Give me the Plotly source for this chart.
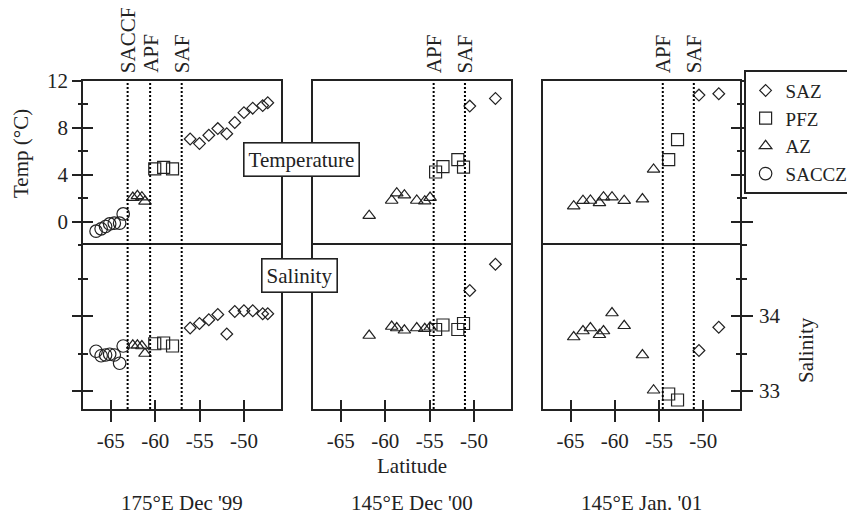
import plotly.graph_objects as go

FONT = "Liberation Serif, Times New Roman, serif"
INK = "#222222"
# the page body adds an 8px margin, so the figure is drawn 8px smaller and
# every target pixel position is shifted by that offset
OFF = 8
FW, FH = 855 - OFF, 516 - OFF


def fx(px):
    return (px - OFF) / FW


def fy(py):
    return 1 - (py - OFF) / FH


# ---------------- data ----------------
lat_ticks = [-65, -60, -55, -50]
lat_tick_text = ["-65", "-60", "-55", "-50"]
temp_ticks = [0, 4, 8, 12]
temp_tick_text = ["0", "4", "8", "12"]
temp_minor = [-2, 2, 6, 10]
sal_ticks = [33, 34]
sal_tick_text = ["33", "34"]
sal_minor = [33.5, 34.5]

zones = ["SAZ", "PFZ", "AZ", "SACCZ"]
panel_titles = ["175°E Dec '99", "145°E Dec '00", "145°E Jan. '01"]

# Panel 1: 175°E Dec '99
p1_saz_lat = [-56.07, -55.02, -53.97, -52.96, -51.95, -51.05, -50.02, -49.03, -47.91, -47.34]
p1_saz_temp = [7.05, 6.66, 7.37, 7.94, 7.5, 8.46, 9.3, 9.68, 9.9, 10.14]
p1_saz_sal = [33.84, 33.9, 33.95, 34.02, 33.76, 34.06, 34.07, 34.07, 34.03, 34.03]
p1_pfz_lat = [-60.05, -59.05, -58.05]
p1_pfz_temp = [4.5, 4.63, 4.5]
p1_pfz_sal = [33.63, 33.64, 33.6]
p1_az_lat = [-62.52, -62.0, -61.5, -61.15]
p1_az_temp = [2.05, 2.2, 2.08, 1.72]
p1_az_sal = [33.61, 33.61, 33.6, 33.5]
p1_saccz_lat = [-66.65, -66.08, -65.58, -65.12, -64.6, -64.0, -63.6]
p1_saccz_temp = [-0.82, -0.62, -0.42, -0.2, -0.14, -0.14, 0.65]
p1_saccz_sal = [33.53, 33.47, 33.48, 33.49, 33.48, 33.37, 33.6]
p1_front_names = ["SACCF", "APF", "SAF"]
p1_front_lat = [-63.1, -60.57, -57.02]

# Panel 2: 145°E Dec '00
p2_saz_lat = [-50.49, -47.6]
p2_saz_temp = [9.86, 10.51]
p2_saz_sal = [34.34, 34.69]
p2_pfz_lat = [-54.33, -53.5, -51.83, -51.19]
p2_pfz_temp = [4.23, 4.69, 5.29, 4.64]
p2_pfz_sal = [33.82, 33.88, 33.82, 33.9]
p2_az_lat = [-61.8, -59.27, -58.7, -57.84, -56.45, -55.55, -54.95]
p2_az_temp = [0.5, 1.8, 2.42, 2.25, 1.8, 1.74, 2.05]
p2_az_sal = [33.74, 33.86, 33.84, 33.81, 33.84, 33.83, 33.85]
p2_front_names = ["APF", "SAF"]
p2_front_lat = [-54.55, -51.03]

# Panel 3: 145°E Jan. '01
p3_saz_lat = [-50.49, -48.25]
p3_saz_temp = [10.8, 10.91]
p3_saz_sal = [33.54, 33.85]
p3_pfz_lat = [-53.91, -52.91]
p3_pfz_temp = [5.29, 7.0]
p3_pfz_sal = [32.96, 32.88]
p3_az_lat = [-64.65, -63.6, -62.76, -61.74, -61.28, -60.32, -58.94, -56.88, -55.62]
p3_az_temp = [1.32, 1.78, 1.8, 1.6, 2.08, 2.08, 1.78, 1.92, 4.45]
p3_az_sal = [33.72, 33.8, 33.84, 33.75, 33.8, 34.04, 33.87, 33.48, 33.01]
p3_front_names = ["APF", "SAF"]
p3_front_lat = [-54.58, -51.07]

panels = [
    {"SAZ": (p1_saz_lat, p1_saz_temp, p1_saz_sal),
     "PFZ": (p1_pfz_lat, p1_pfz_temp, p1_pfz_sal),
     "AZ": (p1_az_lat, p1_az_temp, p1_az_sal),
     "SACCZ": (p1_saccz_lat, p1_saccz_temp, p1_saccz_sal)},
    {"SAZ": (p2_saz_lat, p2_saz_temp, p2_saz_sal),
     "PFZ": (p2_pfz_lat, p2_pfz_temp, p2_pfz_sal),
     "AZ": (p2_az_lat, p2_az_temp, p2_az_sal)},
    {"SAZ": (p3_saz_lat, p3_saz_temp, p3_saz_sal),
     "PFZ": (p3_pfz_lat, p3_pfz_temp, p3_pfz_sal),
     "AZ": (p3_az_lat, p3_az_temp, p3_az_sal)},
]
fronts = [(p1_front_names, p1_front_lat), (p2_front_names, p2_front_lat),
          (p3_front_names, p3_front_lat)]

# ---------------- styling ----------------
symbols = {"SAZ": ("diamond-open", 9), "PFZ": ("square-open", 12),
           "AZ": ("triangle-up-open", 11), "SACCZ": ("circle-open", 12.5)}

xdoms = [[fx(83), fx(281)], [fx(313), fx(511)], [fx(543), fx(740)]]
tdom = [fy(245), fy(81)]
sdom = [fy(409), fy(245)]
XR = [-68.12, -45.85]
TR = [-2, 12]
SR = [32.76, 34.947]
LW = 1.6
tickfont = dict(family=FONT, size=21, color=INK)


def xa(n):
    return "x" if n == 1 else f"x{n}"


def ya(n):
    return "y" if n == 1 else f"y{n}"


fig = go.Figure()

for p, pdata in enumerate(panels):
    tx, sx = 2 * p + 1, 2 * p + 2
    for z in zones:
        if z not in pdata:
            continue
        lat, temp, sal = pdata[z]
        sym, size = symbols[z]
        mk = dict(symbol=sym, size=size, color=INK, line=dict(width=1.2, color=INK))
        fig.add_trace(go.Scatter(x=lat, y=temp, mode="markers", marker=mk, name=z,
                                 legendgroup=z, showlegend=(p == 0),
                                 xaxis=xa(tx), yaxis=ya(tx)))
        fig.add_trace(go.Scatter(x=lat, y=sal, mode="markers", marker=mk, name=z,
                                 legendgroup=z, showlegend=False,
                                 xaxis=xa(sx), yaxis=ya(sx)))

# dummy traces for overlay (inside-tick) axes
for xn, yn in [("x", "y7"), ("x2", "y8"), ("x5", "y9"), ("x6", "y10"),
               ("x7", "y2"), ("x8", "y4"), ("x9", "y6")]:
    fig.add_trace(go.Scatter(x=[], y=[], xaxis=xn, yaxis=yn, showlegend=False,
                             hoverinfo="skip"))

base = dict(showline=True, mirror=True, linecolor=INK, linewidth=LW,
            showgrid=False, zeroline=False, ticks="", showticklabels=False,
            tickcolor=INK, tickwidth=LW, tickfont=tickfont)
lay = {}
for p in range(3):
    tx, sx = 2 * p + 1, 2 * p + 2
    lay[f"xaxis{tx}"] = dict(base, domain=xdoms[p], range=XR, anchor=ya(tx),
                             side="top", mirror=False)
    lay[f"yaxis{tx}"] = dict(base, domain=tdom, range=TR, anchor=xa(tx))
    lay[f"xaxis{sx}"] = dict(base, domain=xdoms[p], range=XR, anchor=ya(sx),
                             ticks="outside", ticklen=11, tickmode="array",
                             tickvals=lat_ticks, ticktext=lat_tick_text,
                             showticklabels=True, ticklabelstandoff=1)
    lay[f"yaxis{sx}"] = dict(base, domain=sdom, range=SR, anchor=xa(sx))

# left axis of panel 1
lay["yaxis1"].update(ticks="outside", ticklen=9, tickmode="array", tickvals=temp_ticks,
                     ticktext=temp_tick_text, showticklabels=True, ticklabelstandoff=0,
                     minor=dict(tickmode="array", tickvals=temp_minor, ticks="outside",
                                ticklen=3, tickwidth=LW, tickcolor=INK))
lay["yaxis2"].update(ticks="outside", ticklen=9, tickmode="array", tickvals=sal_ticks,
                     minor=dict(tickmode="array", tickvals=sal_minor, ticks="outside",
                                ticklen=3, tickwidth=LW, tickcolor=INK))
# right axis of panel 3
lay["yaxis5"].update(side="right", ticks="outside", ticklen=11, tickmode="array",
                     tickvals=temp_ticks,
                     minor=dict(tickmode="array", tickvals=temp_minor, ticks="outside",
                                ticklen=5, tickwidth=LW, tickcolor=INK))
lay["yaxis6"].update(side="right", ticks="outside", ticklen=11, tickmode="array",
                     tickvals=sal_ticks, ticktext=sal_tick_text, showticklabels=True,
                     ticklabelstandoff=2,
                     minor=dict(tickmode="array", tickvals=sal_minor, ticks="outside",
                                ticklen=5, tickwidth=LW, tickcolor=INK))

inside = dict(showline=False, showgrid=False, zeroline=False, showticklabels=False,
              ticks="inside", tickcolor=INK, tickwidth=LW, tickmode="array")
lay["yaxis7"] = dict(inside, overlaying="y", anchor="x", side="left", range=TR,
                     tickvals=temp_ticks, ticklen=10,
                     minor=dict(tickmode="array", tickvals=temp_minor, ticks="inside",
                                ticklen=5, tickwidth=LW, tickcolor=INK))
lay["yaxis8"] = dict(inside, overlaying="y2", anchor="x2", side="left", range=SR,
                     tickvals=sal_ticks, ticklen=10,
                     minor=dict(tickmode="array", tickvals=sal_minor, ticks="inside",
                                ticklen=5, tickwidth=LW, tickcolor=INK))
lay["yaxis9"] = dict(inside, overlaying="y5", anchor="x5", side="right", range=TR,
                     tickvals=temp_ticks, ticklen=9,
                     minor=dict(tickmode="array", tickvals=temp_minor, ticks="inside",
                                ticklen=3, tickwidth=LW, tickcolor=INK))
lay["yaxis10"] = dict(inside, overlaying="y6", anchor="x6", side="right", range=SR,
                      tickvals=sal_ticks, ticklen=9,
                      minor=dict(tickmode="array", tickvals=sal_minor, ticks="inside",
                                 ticklen=4, tickwidth=LW, tickcolor=INK))
for xi, xo, yo in [(7, "x2", "y2"), (8, "x4", "y4"), (9, "x6", "y6")]:
    lay[f"xaxis{xi}"] = dict(inside, overlaying=xo, anchor=yo, side="bottom", range=XR,
                             tickvals=lat_ticks, ticklen=9)

fig.update_layout(**lay)

# front lines and labels
annos = []
for p, (names, lats) in enumerate(fronts):
    tx = 2 * p + 1
    for nm, la in zip(names, lats):
        fig.add_shape(type="line", xref=xa(tx), yref="paper", x0=la, x1=la,
                      y0=sdom[0], y1=tdom[1],
                      line=dict(color="black", width=2, dash="2px,2px"))
        annos.append(dict(x=la, xref=xa(tx), y=fy(75), yref="paper",
                          text=nm, textangle=-90, showarrow=False,
                          xanchor="center", yanchor="bottom",
                          font=dict(family=FONT, size=21, color=INK)))

txtfont = dict(family=FONT, size=21, color=INK)
ctr = dict(showarrow=False, xanchor="center", yanchor="middle", font=txtfont)
annos += [
    dict(ctr, x=fx(301), y=fy(159), xref="paper", yref="paper", text="Temperature",
         bgcolor="white", bordercolor=INK, borderwidth=LW, borderpad=4),
    dict(ctr, x=fx(299), y=fy(275), xref="paper", yref="paper", text="Salinity",
         bgcolor="white", bordercolor=INK, borderwidth=LW, borderpad=4),
    dict(ctr, x=fx(21), y=fy(154), xref="paper", yref="paper", text="Temp (°C)",
         textangle=-90),
    dict(ctr, x=fx(806), y=fy(350), xref="paper", yref="paper", text="Salinity",
         textangle=-90),
    dict(ctr, x=0.5, xref="x4 domain", y=fy(466), yref="paper", text="Latitude"),
]
for p, t in enumerate(panel_titles):
    annos.append(dict(ctr, x=0.5, xref=f"{xa(2 * p + 1)} domain", y=fy(503),
                      yref="paper", text=t))

fig.update_layout(
    width=FW, height=FH,
    margin=dict(l=0, r=0, t=0, b=0, autoexpand=False),
    paper_bgcolor="white", plot_bgcolor="white",
    font=dict(family=FONT, size=21, color=INK),
    annotations=annos,
    showlegend=True,
    legend=dict(x=fx(854), xanchor="right", y=fy(70), yanchor="top",
                bordercolor=INK, borderwidth=LW, bgcolor="white",
                font=dict(family=FONT, size=19, color=INK),
                tracegroupgap=0, itemwidth=30),
)

fig.write_html("out.html")
